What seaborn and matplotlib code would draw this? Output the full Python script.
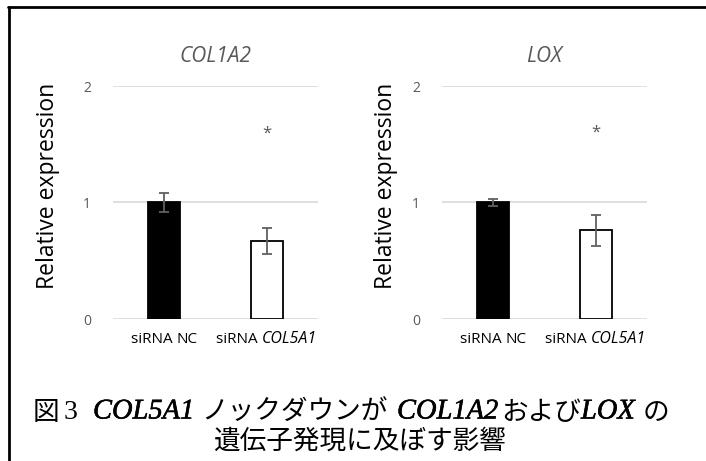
import matplotlib
matplotlib.use("Agg")
import matplotlib.pyplot as plt
from matplotlib.lines import Line2D
import matplotlib.patheffects as pe
import seaborn as sns
import pandas as pd

# ---- data ----
groups = ["siRNA NC", "siRNA COL5A1"]
genes = ["COL1A2", "LOX"]
col1a2_mean = [1.00, 0.67]
col1a2_err = [0.08, 0.11]
lox_mean = [1.00, 0.76]
lox_err = [0.03, 0.135]
star_y = [1.59, 1.60]
yticks = [0, 1, 2]

sns.set_theme(style="white")
plt.rcParams["font.family"] = ["Open Sans", "DejaVu Sans"]

GRAY = "#595959"
W, H = 706, 461
fig = plt.figure(figsize=(W / 100, H / 100), dpi=100)
fig.patch.set_facecolor("white")
fig.canvas.draw()
renderer = fig.canvas.get_renderer()


def px_axes(x0, y0, x1, y1):
    return fig.add_axes([x0 / W, 1 - y1 / H, (x1 - x0) / W, (y1 - y0) / H])


def draw_parts(parts, xc, yc):
    """Lay out a row of differently styled strings centred at pixel (xc, yc)."""
    texts = [fig.text(0, 0, s, va="center", ha="left", **kw) for s, kw in parts]
    widths = [t.get_window_extent(renderer).width for t in texts]
    x = xc - sum(widths) / 2
    for t, w in zip(texts, widths):
        t.set_position((x / W, 1 - yc / H))
        x += w


def place_parts(parts, lefts, yc):
    """Put each styled string at its own left pixel position on one row."""
    for (s, kw), x in zip(parts, lefts):
        fig.text(x / W, 1 - yc / H, s, va="center", ha="left", **kw)


tick_rm = dict(family=["Open Sans"], fontsize=11, color="black")
tick_it = dict(family=["Open Sans"], fontsize=11.5, color="black",
               style="italic")

panels = [
    ((113, 86, 318, 319), genes[0], col1a2_mean, col1a2_err, star_y[0], -0.26),
    ((442, 86, 647, 319), genes[1], lox_mean, lox_err, star_y[1], -0.215),
]

for box, gene, means, errs, sy, ylab_x in panels:
    ax = px_axes(*box)
    df = pd.DataFrame({"group": groups, "value": means})
    sns.barplot(data=df, x="group", y="value", ax=ax, width=0.31,
                palette=["black", "white"], hue="group", legend=False,
                edgecolor="black", linewidth=1.3, errorbar=None, zorder=3)
    ax.errorbar(range(len(groups)), means, yerr=errs, fmt="none",
                ecolor="#606060", elinewidth=1.3, capsize=3.5, capthick=1.3,
                zorder=4)
    ax.set_xlim(-0.5, 1.5)
    ax.set_ylim(0, 2)
    ax.set_yticks(yticks)
    ax.set_yticklabels([str(t) for t in yticks], color=GRAY, fontsize=10)
    ax.grid(axis="y", color="#d9d9d9", linewidth=1.2, zorder=0)
    ax.grid(axis="x", visible=False)
    for s in ax.spines.values():
        s.set_visible(False)
    ax.tick_params(axis="y", length=0, pad=16)
    ax.set_xticks([])
    ax.set_xlabel("")
    ax.set_ylabel("Relative expression", fontsize=16.5, color="black")
    ax.yaxis.set_label_coords(ylab_x, 0.57)
    ax.set_title(gene, fontsize=15, style="italic", color=GRAY, pad=17)
    ax.text(1, sy, "*", ha="center", va="center", fontsize=12, color=GRAY)

    # category labels below the bars, gene symbol in italics
    x0, y0, x1, y1 = box
    for i, g in enumerate(groups):
        xc = x0 + (i + 0.5) / 2 * (x1 - x0)
        word, name = g.split(" ")
        parts = [(word + " ", tick_rm),
                 (name, tick_it if name != "NC" else tick_rm)]
        draw_parts(parts, xc, 339)

# figure frame (left and top edges)
fig.add_artist(Line2D([8.5 / W, 8.5 / W], [0, 1 - 7 / H], color="black",
                      linewidth=2, transform=fig.transFigure))
fig.add_artist(Line2D([8 / W, 1], [1 - 7.5 / H, 1 - 7.5 / H], color="black",
                      linewidth=2, transform=fig.transFigure))

# caption: Japanese text mixed with italic gene symbols
heavy = [pe.withStroke(linewidth=0.4, foreground="black")]
jp = dict(family=["Noto Sans CJK JP"], fontsize=19.2, color="black")
lat = dict(family=["Liberation Serif"], fontsize=20.5, style="italic",
           color="black", path_effects=heavy)
num = dict(family=["Liberation Serif"], fontsize=20, color="black")

line1 = [("図", jp), ("3", num), ("COL5A1", lat), ("ノックダウンが", jp),
         ("COL1A2", lat), ("および", jp), ("LOX", lat), ("の", jp)]
line1_x = [33, 64, 93, 201, 397, 501, 581, 643]
line2 = [("遺伝子発現に及ぼす影響", jp)]

place_parts(line1, line1_x, 412)
draw_parts(line2, 360, 441)

fig.savefig("out.png", dpi=100)
